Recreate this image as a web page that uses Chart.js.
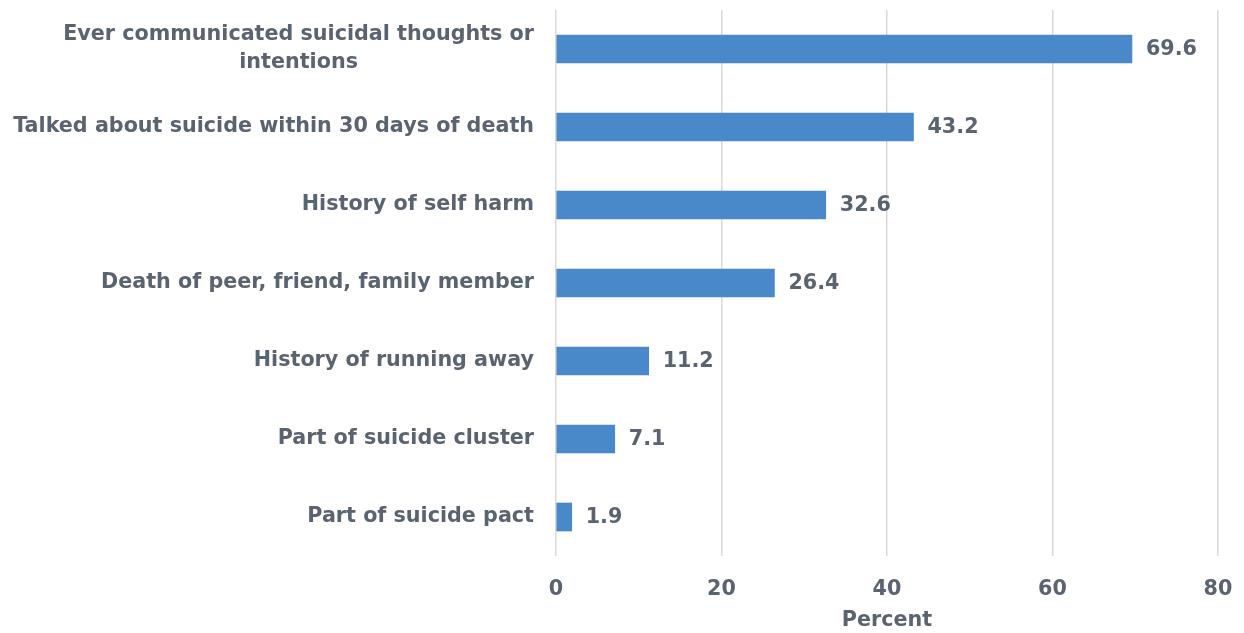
<!DOCTYPE html>
<html>
<head>
<meta charset="utf-8">
<script src="https://cdn.jsdelivr.net/npm/chart.js@4"></script>
<style>
  html, body { margin: 0; padding: 0; background: #fff; }
  #wrap { width: 1244px; height: 633px; }
</style>
</head>
<body>
<div id="wrap"><canvas id="barChart"></canvas></div>
<script>
const categories = [
  ['Ever communicated suicidal thoughts or', 'intentions'],
  'Talked about suicide within 30 days of death',
  'History of self harm',
  'Death of peer, friend, family member',
  'History of running away',
  'Part of suicide cluster',
  'Part of suicide pact'
]
const percents = [69.6, 43.2, 32.6, 26.4, 11.2, 7.1, 1.9]
const xTicks = [0, 20, 40, 60, 80]

const textColor = '#5a6470'
const fontFamily = '"DejaVu Sans", sans-serif'
const fontSize = 20.7

// category names drawn by hand so the wrapped one can be centred on itself
const categoryLabels = {
  id: 'categoryLabels',
  afterDraw(chart) {
    const ctx = chart.ctx
    const yScale = chart.scales.y
    const right = chart.chartArea.left - 22
    ctx.save()
    ctx.fillStyle = textColor
    ctx.font = 'bold ' + fontSize + 'px ' + fontFamily
    ctx.textBaseline = 'middle'
    categories.forEach((label, i) => {
      const lines = Array.isArray(label) ? label : [label]
      const widest = Math.max(...lines.map(l => ctx.measureText(l).width))
      const cx = right - widest / 2
      const y0 = yScale.getPixelForValue(i) - (lines.length - 1) * 14
      ctx.textAlign = 'center'
      lines.forEach((l, j) => ctx.fillText(l, cx, y0 + j * 28))
    })
    ctx.restore()
  }
}

// value printed just past the end of each bar
const valueLabels = {
  id: 'valueLabels',
  afterDatasetsDraw(chart) {
    const ctx = chart.ctx
    const meta = chart.getDatasetMeta(0)
    ctx.save()
    ctx.fillStyle = textColor
    ctx.font = 'bold ' + fontSize + 'px ' + fontFamily
    ctx.textAlign = 'left'
    ctx.textBaseline = 'middle'
    meta.data.forEach((bar, i) => {
      ctx.fillText(percents[i].toFixed(1), bar.x + 14, bar.y + 1)
    })
    ctx.restore()
  }
}

document.addEventListener('DOMContentLoaded', () => {
  const ctx = document.getElementById('barChart').getContext('2d')

  new Chart(ctx, {
    type: 'bar',
    data: {
      labels: categories,
      datasets: [{
        label: 'Percent',
        data: percents,
        backgroundColor: '#4a89c9',
        barThickness: 28
      }]
    },
    options: {
      indexAxis: 'y',
      responsive: true,
      maintainAspectRatio: false,
      animation: false,
      layout: { padding: { top: 10, right: 26, bottom: 0, left: 0 } },
      plugins: {
        legend: { display: false },
        tooltip: { enabled: false }
      },
      scales: {
        y: {
          ticks: { display: false },
          grid: { display: false },
          border: { display: false },
          afterFit: (scale) => { scale.width = 556 }
        },
        x: {
          min: 0,
          max: 80,
          afterBuildTicks: (scale) => { scale.ticks = xTicks.map(v => ({ value: v })) },
          afterFit: (scale) => {
            scale.height = 77
            scale.paddingLeft = 0
            scale.paddingRight = 0
          },
          grid: { color: '#d9d9d9', lineWidth: 1.5, drawTicks: false },
          border: { display: false },
          ticks: {
            color: textColor,
            padding: 21,
            font: { family: fontFamily, size: fontSize, weight: 'bold' }
          },
          title: {
            display: true,
            text: 'Percent',
            color: textColor,
            padding: { top: 4, bottom: 0 },
            font: { family: fontFamily, size: fontSize, weight: 'bold' }
          }
        }
      }
    },
    plugins: [categoryLabels, valueLabels]
  })
})
</script>
</body>
</html>
